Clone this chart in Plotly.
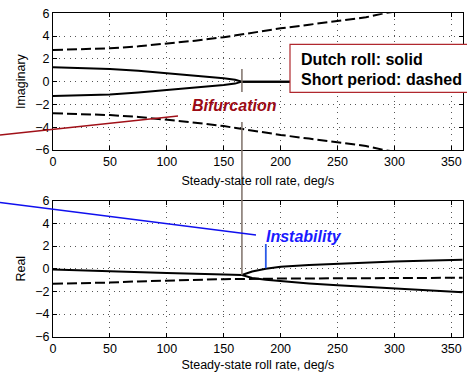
import plotly.graph_objects as go

W, H = 467, 372

# ---------------- data ----------------
# Imaginary parts
dr_im_x = [0, 25, 50, 75, 100, 125, 150, 160, 164, 166, 200, 250, 300, 360]
dr_im_up = [1.27, 1.22, 1.12, 0.95, 0.75, 0.55, 0.30, 0.17, 0.10, 0.0, 0.0, 0.0, 0.0, 0.0]
dr_im_lo = [-1.27, -1.22, -1.12, -0.95, -0.75, -0.55, -0.30, -0.17, -0.10, 0.0, 0.0, 0.0, 0.0, 0.0]

sp_im_x = [0, 25, 50, 75, 100, 125, 150, 175, 200, 225, 250, 275, 291, 310]
sp_im_up = [2.78, 2.83, 2.93, 3.10, 3.33, 3.60, 3.90, 4.30, 4.68, 5.00, 5.30, 5.65, 6.00, 6.30]
sp_im_lo = [-2.78, -2.83, -2.93, -3.10, -3.33, -3.60, -3.90, -4.30, -4.68, -5.00, -5.30, -5.65, -6.00, -6.30]

# Real parts
dr_re_pre_x = [0, 50, 100, 150, 166]
dr_re_pre = [-0.08, -0.20, -0.38, -0.52, -0.56]
dr_re_post_x = [166, 170, 175, 187, 200, 225, 250, 275, 300, 325, 360]
dr_re_up = [-0.56, -0.40, -0.25, 0.00, 0.17, 0.33, 0.45, 0.55, 0.63, 0.70, 0.79]
dr_re_lo = [-0.56, -0.70, -0.82, -0.98, -1.10, -1.30, -1.46, -1.61, -1.76, -1.90, -2.08]

sp_re_x = [0, 25, 50, 75, 100, 125, 150, 200, 250, 300, 360]
sp_re = [-1.33, -1.30, -1.22, -1.12, -1.04, -0.97, -0.92, -0.87, -0.84, -0.82, -0.80]

x_ticks = [0, 50, 100, 150, 200, 250, 300, 350]
y_ticks = [-6, -4, -2, 0, 2, 4, 6]
x_title = "Steady-state roll rate, deg/s"
bif_x = 166
inst_x = 187
inst_y = [0.03, 2.18]

# ---------------- figure ----------------
FONT = "Liberation Sans, Arial, Helvetica, sans-serif"
fig = go.Figure()

solid = dict(color="black", width=2)
dashed = dict(color="black", width=2, dash="10px,4px")

fig.add_trace(go.Scatter(x=dr_im_x, y=dr_im_up, mode="lines", line=solid, xaxis="x", yaxis="y"))
fig.add_trace(go.Scatter(x=dr_im_x, y=dr_im_lo, mode="lines", line=solid, xaxis="x", yaxis="y"))
fig.add_trace(go.Scatter(x=sp_im_x, y=sp_im_up, mode="lines", line=dashed, xaxis="x", yaxis="y"))
fig.add_trace(go.Scatter(x=sp_im_x, y=sp_im_lo, mode="lines", line=dashed, xaxis="x", yaxis="y"))

fig.add_trace(go.Scatter(x=dr_re_pre_x, y=dr_re_pre, mode="lines", line=solid, xaxis="x2", yaxis="y2"))
fig.add_trace(go.Scatter(x=dr_re_post_x, y=dr_re_up, mode="lines", line=solid, xaxis="x2", yaxis="y2"))
fig.add_trace(go.Scatter(x=dr_re_post_x, y=dr_re_lo, mode="lines", line=solid, xaxis="x2", yaxis="y2"))
fig.add_trace(go.Scatter(x=sp_re_x, y=sp_re, mode="lines", line=dashed, xaxis="x2", yaxis="y2"))

def px_x(p):
    return p / W

def px_y(p):
    return 1 - p / H

xdom = [px_x(53), px_x(462.7)]
axis_common = dict(
    showline=True, linecolor="black", linewidth=1, mirror="ticks",
    ticks="inside", ticklen=4, tickcolor="black", tickwidth=1,
    showgrid=True, gridcolor="#555555", gridwidth=1, griddash="1px,4.5px",
    zeroline=False, tickfont=dict(family=FONT, size=12.5, color="black"),
    automargin=False,
)
title_font = dict(family=FONT, size=12.5, color="black")

fig.update_layout(
    width=W, height=H, margin=dict(l=0, r=0, t=0, b=0, autoexpand=False),
    paper_bgcolor="white", plot_bgcolor="white", showlegend=False,
    xaxis=dict(domain=xdom, range=[0, 360], tickvals=x_ticks, anchor="y",
               title=dict(text=x_title, font=title_font, standoff=8),
               **axis_common),
    yaxis=dict(domain=[px_y(150), px_y(13.3)], range=[-6, 6], tickvals=y_ticks, anchor="x",
               title=dict(text="Imaginary", font=title_font, standoff=6),
               **axis_common),
    xaxis2=dict(domain=xdom, range=[0, 360], tickvals=x_ticks, anchor="y2",
                title=dict(text=x_title, font=title_font, standoff=8),
                **axis_common),
    yaxis2=dict(domain=[px_y(336.7), px_y(200.7)], range=[-6, 6], tickvals=y_ticks, anchor="x2",
                title=dict(text="Real", font=title_font, standoff=6),
                **axis_common),
)

shapes = [
    # bifurcation marker (vertical, spanning both panels)
    dict(type="line", xref="x", yref="paper", x0=bif_x, x1=bif_x, y0=px_y(69), y1=px_y(92),
         line=dict(color="#7d7068", width=1.5), layer="above"),
    dict(type="line", xref="x", yref="paper", x0=bif_x, x1=bif_x, y0=px_y(122), y1=px_y(275),
         line=dict(color="#7d7068", width=1.5), layer="above"),
    # red pointer line
    dict(type="line", xref="paper", yref="paper", x0=0, y0=px_y(135), x1=px_x(178), y1=px_y(116),
         line=dict(color="#a01018", width=1.3), layer="above"),
    # blue pointer line
    dict(type="line", xref="paper", yref="paper", x0=0, y0=px_y(202.5), x1=px_x(256), y1=px_y(235),
         line=dict(color="#1010ee", width=1.3), layer="above"),
    # instability tick
    dict(type="line", xref="x2", yref="y2", x0=inst_x, x1=inst_x, y0=inst_y[0], y1=inst_y[1],
         line=dict(color="#2a5ae8", width=1.8), layer="above"),
    # legend box
    dict(type="rect", xref="paper", yref="paper", x0=px_x(290), x1=1.02, y0=px_y(92.3), y1=px_y(44.3),
         line=dict(color="#b0282e", width=1.2), fillcolor="white", layer="above"),
]
fig.update_layout(shapes=shapes)

ann_font = dict(family=FONT, size=16, color="black", weight="bold")
annotations = [
    dict(text="Dutch roll: solid", xref="paper", yref="paper", x=px_x(299), y=px_y(60),
         xanchor="left", yanchor="middle", showarrow=False, font=ann_font),
    dict(text="Short period: dashed", xref="paper", yref="paper", x=px_x(299), y=px_y(79),
         xanchor="left", yanchor="middle", showarrow=False, font=ann_font),
    dict(text="Bifurcation", xref="paper", yref="paper", x=px_x(234), y=px_y(106),
         xanchor="center", yanchor="middle", showarrow=False,
         font=dict(family=FONT, size=16, color="#9b0a14", weight="bold", style="italic")),
    dict(text="Instability", xref="paper", yref="paper", x=px_x(303.5), y=px_y(236),
         xanchor="center", yanchor="middle", showarrow=False,
         font=dict(family=FONT, size=16, color="#1a1aff", weight="bold", style="italic")),
]
fig.update_layout(annotations=annotations)

fig.write_html("out.html", config={"displayModeBar": False},
               post_script="document.body.style.margin='0';document.body.style.overflow='hidden';")
